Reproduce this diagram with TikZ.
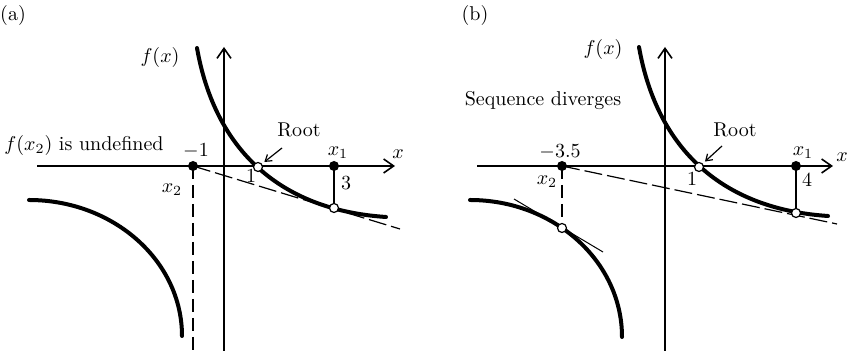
\documentclass[tikz,border=0pt]{standalone}
\usepackage{amsmath}
\usetikzlibrary{arrows.meta}

\begin{document}
\begin{tikzpicture}[x=0.5pt, y=-0.5pt,
axis/.style={line width=0.8pt, -{Straight Barb[length=5pt, width=7pt]}},
curve/.style={line width=2pt, line cap=round},
tangent/.style={line width=0.6pt, dash pattern=on 9pt off 2.5pt},
drop/.style={line width=0.8pt, dash pattern=on 6.5pt off 3pt},
guide/.style={line width=0.8pt},
touch/.style={line width=0.5pt},
dot/.style={circle, fill=black, inner sep=0pt, minimum size=5pt},
hollow/.style={circle, draw, line width=0.6pt, fill=white, inner sep=0pt, minimum size=4.5pt},
pointer/.style={line width=0.6pt, -{Straight Barb[length=3pt, width=4pt]}},
lbl/.style={inner sep=1pt, font=\fontsize{10}{12}\selectfont}
]
\useasboundingbox (0,0) rectangle (847,351);

% (a)
\node[lbl] (tagA) at (13,16) {(a)};
\coordinate (xaL) at (37,166);
\coordinate (xaR) at (395,166);
\coordinate (yaB) at (224,351);
\coordinate (yaT) at (224,47);
\draw[axis] (xaL) -- (xaR);
\draw[axis] (yaB) -- (yaT);
\draw[curve] (197,48) .. controls (215,150) and (280,210) .. (386,217);
\draw[curve] (29,200) arc[start angle=-90, end angle=0, x radius=153, y radius=136];
\node[dot] (x2A) at (193,166) {};
\node[dot] (x1A) at (334,166) {};
\coordinate (tanEndA) at (400,229);
\coordinate (dropEndA) at (193,350);
\draw[tangent] (x2A.center) -- (tanEndA);
\draw[drop] (x2A.center) -- (dropEndA);
\node[hollow] (p1A) at (334,208) {};
\draw[guide] (x1A.center) -- (p1A);
\node[hollow] (rootA) at (258,167) {};
\node[lbl] (fxA) at (160,58) {$f(x)$};
\node[lbl] (undef) at (84,146) {$f(x_2)$ is undefined};
\node[lbl] (mA) at (196,151) {$-1$};
\node[lbl] (x2labA) at (172,190) {$x_2$};
\node[lbl] (oneA) at (251,176) {1};
\node[lbl] (rootlabA) at (299,130) {Root};
\coordinate (rootArrA) at (282,148);
\draw[pointer, shorten >=1.5pt] (rootArrA) -- (rootA);
\node[lbl] (x1labA) at (338,153) {$x_1$};
\node[lbl] (threeA) at (346,183) {3};
\node[lbl] (xA) at (398,154) {$x$};

% (b)
\node[lbl] (tagB) at (475,16) {(b)};
\coordinate (xbL) at (477,166);
\coordinate (xbR) at (833,166);
\coordinate (ybB) at (665,351);
\coordinate (ybT) at (665,47);
\draw[axis] (xbL) -- (xbR);
\draw[axis] (ybB) -- (ybT);
\draw[curve] (639,47) .. controls (657,149) and (722,209) .. (828,216);
\draw[curve] (470,200) arc[start angle=-90, end angle=0, x radius=152, y radius=137];
\node[dot] (x2B) at (562,166) {};
\node[dot] (x1B) at (796,166) {};
\coordinate (tanEndB) at (837,224);
\draw[tangent] (x2B.center) -- (tanEndB);
\coordinate (touchL) at (514,199);
\coordinate (touchR) at (603,252);
\draw[touch] (touchL) -- (touchR);
\node[hollow] (p2B) at (562,228) {};
\draw[drop] (x2B.center) -- (p2B);
\node[hollow] (p1B) at (796,213) {};
\draw[guide] (x1B.center) -- (p1B);
\node[hollow] (rootB) at (699,167) {};
\node[lbl] (fxB) at (603,50) {$f(x)$};
\node[lbl] (diverge) at (543,101) {Sequence diverges};
\node[lbl] (mB) at (560,152) {$-3.5$};
\node[lbl] (x2labB) at (547,182) {$x_2$};
\node[lbl] (oneB) at (692,179) {1};
\node[lbl] (rootlabB) at (735,130) {Root};
\coordinate (rootArrB) at (722,146);
\draw[pointer, shorten >=1.5pt] (rootArrB) -- (rootB);
\node[lbl] (x1labB) at (803,153) {$x_1$};
\node[lbl] (fourB) at (807,180) {4};
\node[lbl] (xB) at (842,157) {$x$};
\end{tikzpicture}
\end{document}
